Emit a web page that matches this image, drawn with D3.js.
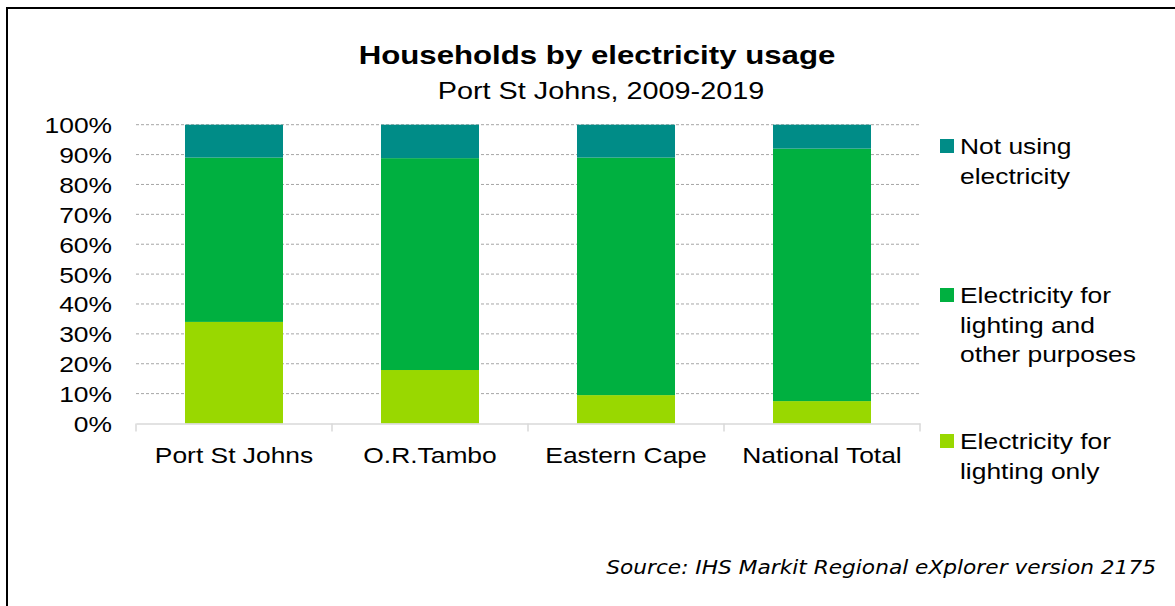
<!DOCTYPE html>
<html>
<head>
<meta charset="utf-8">
<script src="https://cdn.jsdelivr.net/npm/d3@7/dist/d3.min.js"></script>
<style>
  html, body { margin: 0; padding: 0; background: #fff; }
  svg { display: block; }
</style>
</head>
<body>
<svg id="chart" width="1175" height="606"></svg>
<script>
// Household shares (%) by electricity usage, stacked bottom to top
const categories = ["Port St Johns", "O.R.Tambo", "Eastern Cape", "National Total"];
const lightingOnly = [34.0, 17.9, 9.5, 7.5];
const lightingAndOther = [55.0, 70.9, 79.5, 84.5];
const notUsing = [11.0, 11.2, 11.0, 8.0];
const seriesNames = ["Electricity for lighting only", "Electricity for lighting and other purposes", "Not using electricity"];
const yTicks = [0, 10, 20, 30, 40, 50, 60, 70, 80, 90, 100];

const colors = ["#99d800", "#00b040", "#008c87"];
const SANS = "'Liberation Sans', Arial, sans-serif";
const WIDE = 1.2; // horizontal stretch of the lettering

const svg = d3.select("#chart");

// text drawn at (x, y), widened horizontally around its anchor
function wideText(parent, x, y, str, size, anchor, extra) {
  const t = parent.append("text")
    .attr("transform", `translate(${x},${y}) scale(${WIDE},1)`)
    .attr("text-anchor", anchor || "start")
    .style("font-family", SANS)
    .style("font-size", size + "px")
    .style("fill", "#000")
    .text(str);
  if (extra) extra(t);
  return t;
}

// outer frame
svg.append("rect")
  .attr("x", 7).attr("y", 8).attr("width", 1200).attr("height", 640)
  .attr("fill", "none").attr("stroke", "#000").attr("stroke-width", 2);

const plot = { left: 136, right: 920, top: 124.7, bottom: 423.5 };

const x = d3.scaleBand().domain(categories).range([plot.left, plot.right]).paddingInner(0.5).paddingOuter(0.25);
const xOuter = d3.scaleBand().domain(categories).range([plot.left, plot.right]);
const y = d3.scaleLinear().domain([0, 100]).range([plot.bottom, plot.top]);

// gridlines
svg.append("g").selectAll("line")
  .data(yTicks.filter(t => t > 0))
  .join("line")
  .attr("x1", plot.left).attr("x2", plot.right)
  .attr("y1", d => y(d)).attr("y2", d => y(d))
  .attr("stroke", "#a6a6a6").attr("stroke-width", 1)
  .attr("stroke-dasharray", "3,2");

// stacked bars
const rows = categories.map((c, i) => ({
  cat: c, s0: lightingOnly[i], s1: lightingAndOther[i], s2: notUsing[i]
}));
const layers = d3.stack().keys(["s0", "s1", "s2"])(rows);

svg.append("g").selectAll("g")
  .data(layers)
  .join("g")
  .attr("fill", (d, i) => colors[i])
  .selectAll("rect")
  .data(d => d)
  .join("rect")
  .attr("x", d => x(d.data.cat))
  .attr("width", x.bandwidth())
  .attr("y", d => y(d[1]))
  .attr("height", d => y(d[0]) - y(d[1]));

// x axis line with category separators
const xAxis = svg.append("g").attr("transform", `translate(0,${plot.bottom})`)
  .call(d3.axisBottom(xOuter).tickSize(0).tickFormat(""));
xAxis.select(".domain").attr("stroke", "#d9d9d9").attr("stroke-width", 1.5);
const seps = categories.map(c => xOuter(c)).concat([plot.right]);
svg.append("g").selectAll("line").data(seps).join("line")
  .attr("x1", d => d).attr("x2", d => d)
  .attr("y1", plot.bottom).attr("y2", plot.bottom + 8)
  .attr("stroke", "#d9d9d9").attr("stroke-width", 1.5);

// category labels
const catG = svg.append("g");
categories.forEach(c => wideText(catG, xOuter(c) + xOuter.bandwidth() / 2, 463, c, 22, "middle"));

// y axis labels
const yAxis = svg.append("g").attr("transform", `translate(${plot.left},0)`)
  .call(d3.axisLeft(y).tickValues(yTicks).tickSize(0).tickPadding(24).tickFormat(d => d + "%"));
yAxis.select(".domain").remove();
yAxis.selectAll("text")
  .attr("x", -24 / WIDE)
  .attr("transform", `scale(${WIDE},1)`)
  .style("font-family", SANS)
  .style("font-size", "22px")
  .style("fill", "#000")
  .attr("dy", "0.36em");

// title
wideText(svg, 597, 64, "Households by electricity usage", 26, "middle", t => t.style("font-weight", "bold"));
wideText(svg, 601, 99, "Port St Johns, 2009-2019", 24, "middle");

// legend (top to bottom: reversed series order)
const legend = [
  { name: seriesNames[2], lines: ["Not using", "electricity"], color: colors[2], y: 146 },
  { name: seriesNames[1], lines: ["Electricity for", "lighting and", "other purposes"], color: colors[1], y: 295 },
  { name: seriesNames[0], lines: ["Electricity for", "lighting only"], color: colors[0], y: 441 }
];
const lg = svg.append("g");
legend.forEach(d => {
  lg.append("rect")
    .attr("x", 940).attr("y", d.y - 7)
    .attr("width", 14).attr("height", 14)
    .attr("fill", d.color);
  d.lines.forEach((l, i) => wideText(lg, 960, d.y + 8 + i * 29.5, l, 22, "start"));
});

// source note
svg.append("text")
  .attr("transform", `translate(1156,574) scale(1.085,1)`)
  .attr("text-anchor", "end")
  .style("font-family", "'DejaVu Sans', Verdana, sans-serif")
  .style("font-style", "italic")
  .style("font-size", "20px")
  .style("fill", "#000")
  .text("Source: IHS Markit Regional eXplorer version 2175");
</script>
</body>
</html>
